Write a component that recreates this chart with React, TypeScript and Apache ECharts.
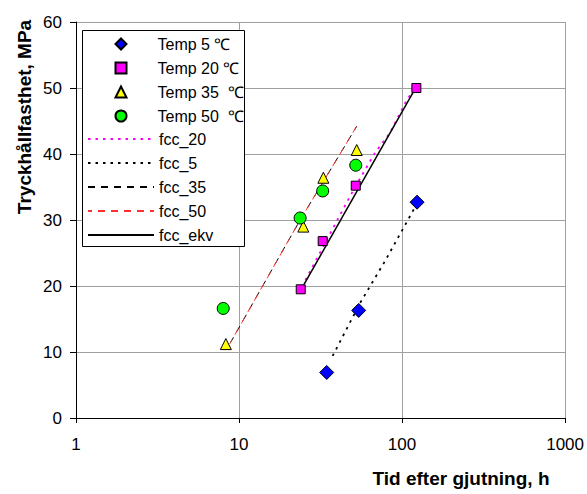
import React, { useEffect, useRef } from "react";
import * as echarts from "echarts";

// Measured points [time h, strength MPa]
const temp5: number[][] = [[34.5, 6.9], [54.2, 16.3], [123.6, 32.7]];
const temp20: number[][] = [[23.9, 19.5], [32.6, 26.8], [52.0, 35.2], [122.4, 50.0]];
const temp35: number[][] = [[8.3, 11.2], [24.8, 29.0], [32.9, 36.4], [52.7, 40.6]];
const temp50: number[][] = [[8.0, 16.6], [23.7, 30.3], [32.6, 34.4], [52.0, 38.3]];

// Fitted curves
const fcc20: number[][] = [[24.3, 19.9], [32.9, 26.0], [41.7, 30.8], [51.5, 35.0], [68.3, 40.2], [84.4, 43.2], [106.9, 48.2], [121.9, 50.2]];
const fcc5: number[][] = [[37.5, 9.4], [55.2, 17.4], [78.7, 23.8], [123.0, 32.4]];
const fcc35: number[][] = [[8.8, 11.3], [23.7, 30.0], [52.7, 44.2]];
const fcc50: number[][] = [[8.8, 11.3], [23.7, 30.0], [52.7, 44.2]];
const fccEkv: number[][] = [[25.0, 20.2], [122.4, 50.2]];

const xTicks = [1, 10, 100, 1000];
const yTicks = [0, 10, 20, 30, 40, 50, 60];

const scatterNames = ["Temp 5 ℃", "Temp 20 ℃", "Temp 35  ℃", "Temp 50  ℃"];
const lineNames = ["fcc_20", "fcc_5", "fcc_35", "fcc_50", "fcc_ekv"];

const FONT = "'Liberation Sans', Arial, sans-serif";

export default function App() {
  const ref = useRef<HTMLDivElement>(null);
  useEffect(() => {
    if (!ref.current) return;
    const chart = echarts.init(ref.current, undefined, { renderer: "svg" });
    const scatter = (name: string, data: number[][], symbol: string, size: number, color: string) => ({
      name,
      type: "scatter",
      data,
      symbol,
      symbolSize: size,
      z: 5,
      itemStyle: { color, borderColor: "#000", borderWidth: 1, opacity: 1 },
    });
    const line = (name: string, data: number[][], color: string, type: any, width: number, offset = 0) => ({
      name,
      type: "line",
      data,
      symbol: "none",
      showSymbol: false,
      z: 3,
      lineStyle: { color, type, width, dashOffset: offset },
      itemStyle: { color },
    });
    const legendBase = {
      orient: "vertical",
      padding: 0,
      itemGap: 8,
      backgroundColor: "transparent",
      borderWidth: 0,
      z: 4,
    };
    chart.setOption({
      animation: false,
      backgroundColor: "#fff",
      textStyle: { fontFamily: FONT },
      grid: { left: 76, right: 21, top: 22, bottom: 76, containLabel: false },
      xAxis: {
        type: "log",
        logBase: 10,
        min: xTicks[0],
        max: xTicks[xTicks.length - 1],
        axisLine: { show: true, lineStyle: { color: "#000", width: 1 } },
        axisTick: { show: true, inside: false, length: 5, lineStyle: { color: "#000" } },
        minorTick: { show: false },
        axisLabel: { color: "#000", fontSize: 17, margin: 18, fontFamily: FONT, formatter: (v: number) => String(v) },
        splitLine: { show: true, lineStyle: { color: "#a0a0a0", width: 1 } },
      },
      yAxis: {
        type: "value",
        min: yTicks[0],
        max: yTicks[yTicks.length - 1],
        interval: 10,
        axisLine: { show: true, lineStyle: { color: "#000", width: 1 } },
        axisTick: { show: true, inside: false, length: 6, lineStyle: { color: "#000" } },
        axisLabel: { color: "#000", fontSize: 17, margin: 14, fontFamily: FONT },
        splitLine: { show: true, lineStyle: { color: "#a0a0a0", width: 1 } },
      },
      legend: [
        {
          ...legendBase,
          left: 114.5,
          top: 36,
          itemWidth: 11,
          itemHeight: 11,
          textStyle: { color: "#000", fontSize: 16, fontFamily: FONT, padding: [0, 0, 0, 26] },
          data: scatterNames.map((n) => ({ name: n })),
        },
        {
          ...legendBase,
          left: 87,
          top: 131,
          itemWidth: 66,
          itemHeight: 11,
          textStyle: { color: "#000", fontSize: 16, fontFamily: FONT },
          data: lineNames.map((n) => ({ name: n, itemStyle: { opacity: 0 } })),
        },
      ],
      graphic: [
        {
          type: "rect",
          z: 1,
          shape: { x: 82.5, y: 30.5, width: 162, height: 216 },
          style: { fill: "#fff", stroke: "#000", lineWidth: 1 },
        },
        {
          type: "text",
          x: 24,
          y: 117,
          rotation: Math.PI / 2,
          style: {
            text: "Tryckhållfasthet, MPa",
            fontFamily: FONT,
            fontSize: 19,
            fontWeight: "bold",
            fill: "#000",
            textAlign: "center",
            textVerticalAlign: "middle",
          },
        },
        {
          type: "text",
          x: 461,
          y: 478,
          style: {
            text: "Tid efter gjutning, h",
            fontFamily: FONT,
            fontSize: 19,
            fontWeight: "bold",
            fill: "#000",
            textAlign: "center",
            textVerticalAlign: "middle",
          },
        },
      ],
      series: [
        scatter(scatterNames[0], temp5, "diamond", 14, "#0000ff"),
        scatter(scatterNames[1], temp20, "rect", 9, "#ff00ff"),
        scatter(scatterNames[2], temp35, "triangle", 11, "#ffff00"),
        scatter(scatterNames[3], temp50, "circle", 12, "#00ff00"),
        line(lineNames[0], fcc20, "#ff00ff", [2.5, 5], 1.8),
        line(lineNames[1], fcc5, "#000", [2.5, 5], 1.8),
        line(lineNames[2], fcc35, "#000", [7, 6], 1),
        line(lineNames[3], fcc50, "#ff3030", [7, 6], 1, 3),
        line(lineNames[4], fccEkv, "#000", "solid", 1.5),
      ],
    });
    return () => chart.dispose();
  }, []);
  return <div ref={ref} style={{ position: "absolute", left: 0, top: 0, width: 587, height: 494 }} />;
}
